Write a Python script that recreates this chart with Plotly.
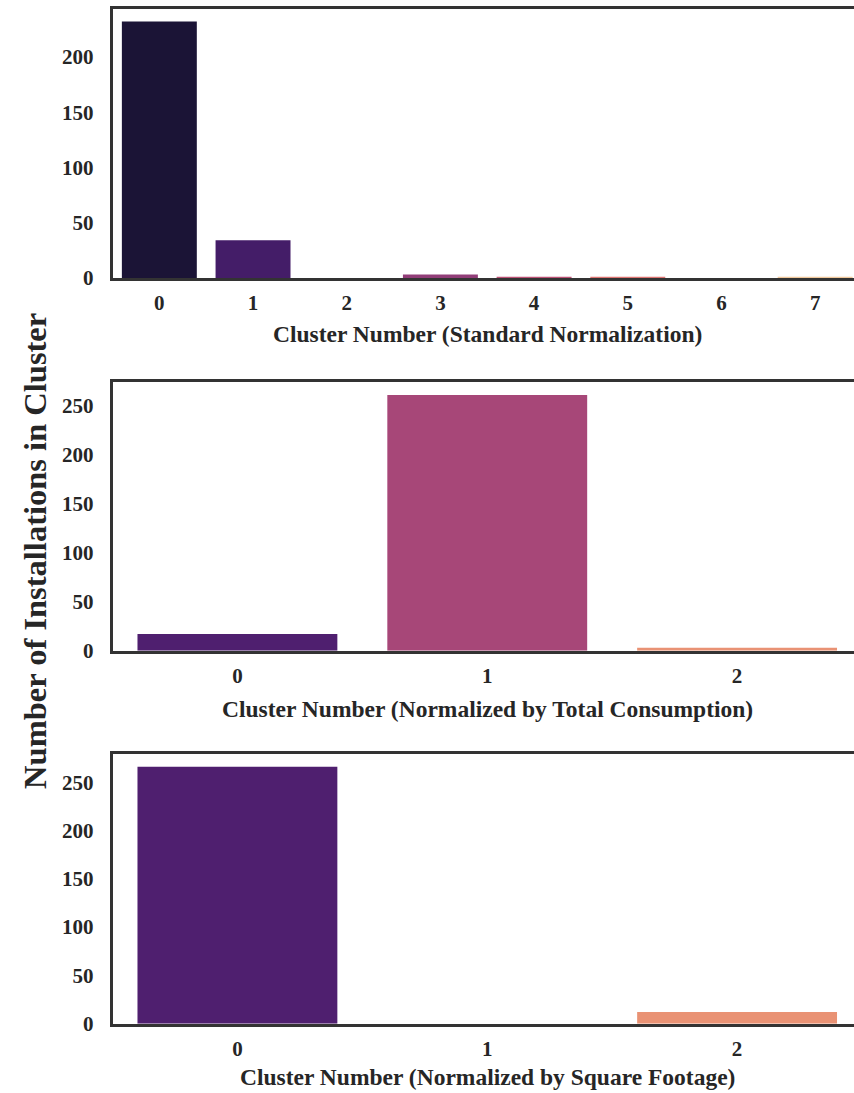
import colorsys
import plotly.graph_objects as go

# ---------------- data ----------------
clusters_std = ["0", "1", "2", "3", "4", "5", "6", "7"]
counts_std = [232, 34, 0, 3, 1, 1, 0, 1]

clusters_cons = ["0", "1", "2"]
counts_cons = [17, 261, 3]

clusters_sqft = ["0", "1", "2"]
counts_sqft = [266, 0, 12]

titles = [
    "Cluster Number (Standard Normalization)",
    "Cluster Number (Normalized by Total Consumption)",
    "Cluster Number (Normalized by Square Footage)",
]
y_title = "Number of Installations in Cluster"

# ---------------- styling ----------------
magma8 = ["#180e3c", "#441174", "#711f80", "#9f2f7e", "#cd4170", "#ef6360", "#fd9569", "#fec98e"]
magma3 = ["#51127c", "#b73779", "#fc8961"]


def desat(hexc, prop=0.75):
    r, g, b = (int(hexc[i:i + 2], 16) / 255 for i in (1, 3, 5))
    h, l, s = colorsys.rgb_to_hls(r, g, b)
    r, g, b = colorsys.hls_to_rgb(h, l, s * prop)
    return "#%02x%02x%02x" % (round(r * 255), round(g * 255), round(b * 255))


W, H = 854, 1093
FONT = "Liberation Serif"
AX_LEFT = 112.5      # px
AX_FULL_RIGHT = 862  # px (axes extend beyond the visible page)
panels_px = [(8.9, 281.0), (386.4, 658.0), (762.4, 1035.0)]  # top, bottom in px
title_y_px = [338, 716.5, 1089]

fig = go.Figure()
datasets = [
    (clusters_std, counts_std, magma8),
    (clusters_cons, counts_cons, magma3),
    (clusters_sqft, counts_sqft, magma3),
]

layout_updates = {}
annotations = []
for i, (cats, vals, pal) in enumerate(datasets):
    n = i + 1
    xa = "x" if n == 1 else f"x{n}"
    ya = "y" if n == 1 else f"y{n}"
    fig.add_trace(go.Bar(
        x=list(range(len(cats))), y=vals,
        marker=dict(color=[desat(c) for c in pal], line=dict(width=0)),
        width=0.8, xaxis=xa, yaxis=ya, showlegend=False,
    ))
    top, bot = panels_px[i]
    ncat = len(cats)
    right = -0.5 + ncat * (W - AX_LEFT) / (AX_FULL_RIGHT - AX_LEFT)
    axis_common = dict(
        showline=True, linecolor="#333333", linewidth=2.6,
        showgrid=False, zeroline=False, ticks="",
        tickfont=dict(family=FONT, size=21, color="#262626", weight="bold"),
    )
    layout_updates["xaxis" if n == 1 else f"xaxis{n}"] = dict(
        axis_common,
        domain=[AX_LEFT / W, 1.0],
        range=[-0.5, right],
        tickmode="array",
        tickvals=list(range(ncat)),
        ticktext=cats,
        mirror=True,
        anchor=ya,
        ticklabelstandoff=4,
    )
    layout_updates["yaxis" if n == 1 else f"yaxis{n}"] = dict(
        axis_common,
        domain=[1 - bot / H, 1 - top / H],
        range=[0, max(vals) * 1.05],
        dtick=50,
        mirror=False,
        anchor=xa,
        ticklabelstandoff=12,
    )
    annotations.append(dict(
        text=titles[i], xref="paper", yref="paper",
        x=(AX_LEFT + AX_FULL_RIGHT) / 2 / W, y=1 - title_y_px[i] / H,
        xanchor="center", yanchor="middle", showarrow=False,
        font=dict(family=FONT, size=23.5, color="#262626", weight="bold"),
    ))

annotations.append(dict(
    text=y_title, xref="paper", yref="paper",
    x=35 / W, y=1 - 557 / H, xanchor="center", yanchor="middle",
    textangle=-90, showarrow=False,
    font=dict(family=FONT, size=32.5, color="#262626", weight="bold"),
))

fig.update_layout(
    width=W, height=H,
    margin=dict(l=0, r=0, t=0, b=0),
    paper_bgcolor="white", plot_bgcolor="white",
    annotations=annotations,
    bargap=0.2,
    **layout_updates,
)

fig.write_html("out.html", config={"displayModeBar": False})
